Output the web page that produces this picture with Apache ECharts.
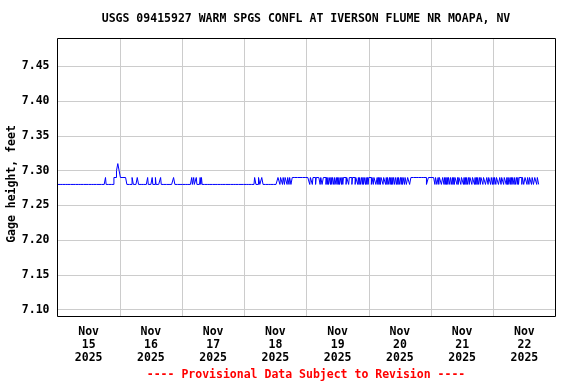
<!DOCTYPE html>
<html>
<head>
<meta charset="utf-8">
<script src="https://cdn.jsdelivr.net/npm/echarts@6/dist/echarts.min.js"></script>
<style>
  html, body { margin: 0; padding: 0; background: #fff; }
  #chart { width: 576px; height: 384px; }
</style>
</head>
<body>
<div id="chart"></div>
<script>
// Gage height readings, 15-minute samples from Nov 15 2025 00:00,
// written as runs: [gage height (ft), number of consecutive samples]
const nov15 = [[7.28,74],[7.29,1],[7.28,12],[7.29,4],[7.30,2],[7.31,2],[7.30,1]];
const nov16 = [[7.30,1],[7.29,10],[7.28,8],[7.29,2],[7.28,6],[7.29,2],[7.28,14],[7.29,1],[7.28,6],[7.29,1],[7.28,4],[7.29,1],[7.28,7],[7.29,1],[7.28,19],[7.29,2],[7.28,11]];
const nov17 = [[7.28,15],[7.29,1],[7.28,2],[7.29,1],[7.28,3],[7.29,1],[7.28,5],[7.29,1],[7.28,1],[7.29,1],[7.28,65]];
const nov18 = [[7.28,16],[7.29,2],[7.28,4],[7.29,2],[7.28,3],[7.29,2],[7.28,23],
  [7.29,3],[7.28,1],[7.29,3],[7.28,1],[7.29,2],[7.28,1],[7.29,3],[7.28,1],[7.29,2],[7.28,1],[7.29,2],[7.28,2],[7.29,2],
  [7.29,20]];
const nov19 = [[7.29,5],[7.28,1],[7.29,3],[7.28,1],[7.29,4],[7.28,1],[7.29,6],[7.28,1],[7.29,2],[7.28,2],[7.29,4],
  [7.28,1],[7.29,1],[7.28,1],[7.29,1],[7.28,2],[7.29,1],[7.28,1],[7.29,1],[7.28,1],[7.29,2],[7.28,1],[7.29,1],[7.28,2],[7.29,1],[7.28,1],[7.29,1],[7.28,1],[7.29,1],[7.28,2],[7.29,1],[7.28,1],[7.29,1],[7.28,1],
  [7.29,4],[7.28,1],[7.29,3],[7.28,1],[7.29,4],[7.28,1],[7.29,4],[7.28,1],[7.29,3],[7.28,1],
  [7.29,1],[7.28,1],[7.29,1],[7.28,2],[7.29,1],[7.28,1],[7.29,1],[7.28,1],[7.29,2],[7.28,1],[7.29,1],[7.28,1],[7.29,1],[7.28,1],[7.29,1]];
const nov20 = [[7.29,3],[7.28,1],[7.29,2],[7.28,1],[7.29,3],[7.28,1],
  [7.28,1],[7.29,1],[7.28,1],[7.29,1],[7.28,1],[7.29,1],[7.28,1],
  [7.29,3],[7.28,1],[7.29,3],[7.28,1],
  [7.29,1],[7.28,1],[7.29,1],[7.28,2],[7.29,1],[7.28,1],[7.29,1],[7.28,1],[7.29,1],[7.28,1],
  [7.29,2],[7.28,1],[7.29,2],
  [7.28,1],[7.29,1],[7.28,1],[7.29,1],[7.28,2],[7.29,1],[7.28,1],[7.29,1],[7.28,1],
  [7.29,2],[7.28,1],[7.29,2],[7.28,2],[7.29,3],[7.28,2],[7.29,24],[7.28,3],[7.29,5]];
const nov21 = [[7.29,5],
  [7.28,1],[7.29,2],[7.28,2],[7.29,1],[7.28,1],[7.29,3],[7.28,2],[7.29,2],[7.28,1],
  [7.29,1],[7.28,1],[7.29,1],[7.28,1],[7.29,1],[7.28,1],
  [7.29,2],[7.28,1],[7.29,2],
  [7.28,1],[7.29,1],[7.28,1],[7.29,1],[7.28,1],
  [7.29,3],[7.28,1],[7.29,1],[7.28,1],[7.29,1],
  [7.29,2],[7.28,1],[7.29,3],[7.28,1],[7.29,1],
  [7.28,1],[7.29,1],[7.28,1],[7.29,1],[7.28,2],[7.29,1],[7.28,1],
  [7.29,3],[7.28,1],[7.29,3],
  [7.28,1],[7.29,1],[7.28,1],[7.29,1],[7.28,1],[7.29,1],[7.28,2],[7.29,1],[7.28,1],[7.29,1],
  [7.29,2],[7.28,1],[7.29,3],[7.28,2],[7.29,2],[7.28,1],[7.29,3],[7.28,1],[7.29,2],[7.28,1],[7.29,1]];
const nov22 = [[7.28,1],[7.29,2],[7.28,1],[7.29,3],[7.28,2],[7.29,2],[7.28,1],[7.29,3],[7.28,1],[7.29,3],[7.28,1],
  [7.29,1],[7.28,1],[7.29,1],[7.28,2],[7.29,1],[7.28,1],[7.29,1],[7.28,1],[7.29,2],[7.28,1],[7.29,1],[7.28,2],[7.29,1],[7.28,1],[7.29,1],[7.28,1],[7.29,1],
  [7.29,3],[7.28,1],[7.29,2],[7.28,2],[7.29,3],[7.28,1],[7.29,2],[7.28,1],[7.29,3],[7.28,1],[7.29,2],[7.28,2],[7.29,3],[7.28,1],[7.29,2],[7.28,2]];

const dayLabels = ['Nov\n15\n2025','Nov\n16\n2025','Nov\n17\n2025','Nov\n18\n2025',
                   'Nov\n19\n2025','Nov\n20\n2025','Nov\n21\n2025','Nov\n22\n2025'];
const sampleHours = 0.25;
const titleText = 'USGS 09415927 WARM SPGS CONFL AT IVERSON FLUME NR MOAPA, NV';
const yName = 'Gage height, feet';
const footer = '---- Provisional Data Subject to Revision ----';

const runs = [].concat(nov15, nov16, nov17, nov18, nov19, nov20, nov21, nov22);
const data = [];
let t = 0;
runs.forEach(([v, n]) => {
  for (let i = 0; i < n; i++) { data.push([t, v]); t += sampleHours; }
});

const FONT = '"DejaVu Sans Mono", "Liberation Mono", monospace';
const GL = 57.5, GT = 38.5, GR = 20.5, GB = 67.5;
const chart = echarts.init(document.getElementById('chart'), null, { renderer: 'canvas' });
chart.setOption({
  animation: false,
  backgroundColor: '#fff',
  grid: { left: GL, right: GR, top: GT, bottom: GB, show: false, containLabel: false, outerBoundsMode: 'none' },
  xAxis: [
    {
      type: 'value', min: 0, max: 192, interval: 12,
      axisLine: { show: false }, axisTick: { show: false }, splitLine: { show: false },
      axisLabel: {
        margin: 9, color: '#000', fontFamily: FONT, fontWeight: 'bold', fontSize: 11.5, lineHeight: 13,
        formatter: v => (v % 24 === 12 ? dayLabels[(v - 12) / 24] : '')
      }
    },
    {
      type: 'value', min: 0, max: 192, interval: 24, position: 'bottom',
      axisLine: { show: false }, axisTick: { show: false }, axisLabel: { show: false },
      splitLine: { show: true, showMinLine: false, showMaxLine: false, lineStyle: { color: '#cccccc', width: 1 } }
    }
  ],
  yAxis: {
    type: 'value', min: 7.09, max: 7.49, splitNumber: 8, minInterval: 0.05, maxInterval: 0.05,
    axisLine: { show: false }, axisTick: { show: false },
    splitLine: { show: true, showMinLine: false, showMaxLine: false, lineStyle: { color: '#cccccc', width: 1 } },
    axisLabel: {
      margin: 8, color: '#000', fontFamily: FONT, fontWeight: 'bold', fontSize: 11.5,
      showMinLabel: false, showMaxLabel: false,
      formatter: v => v.toFixed(2)
    }
  },
  series: [{
    type: 'line', xAxisIndex: 0, data: data, step: 'end', showSymbol: false, symbol: 'none',
    lineStyle: { color: '#0000ff', width: 1 }, z: 5
  }],
  graphic: [
    { type: 'rect', z: 100, silent: true,
      shape: { x: GL, y: GT, width: 576 - GL - GR, height: 384 - GT - GB },
      style: { fill: 'none', stroke: '#000', lineWidth: 1 } },
    { type: 'text', x: 306, y: 19, style: { text: titleText, fill: '#000', font: 'bold 11.5px ' + FONT, textAlign: 'center', textVerticalAlign: 'middle' } },
    { type: 'text', x: 12, y: 184, rotation: Math.PI / 2, style: { text: yName, fill: '#000', font: 'bold 11.5px ' + FONT, textAlign: 'center', textVerticalAlign: 'middle' } },
    { type: 'text', x: 306, y: 375.5, style: { text: footer, fill: '#ff0000', font: 'bold 11.5px ' + FONT, textAlign: 'center', textVerticalAlign: 'middle' } }
  ]
});
</script>
</body>
</html>
